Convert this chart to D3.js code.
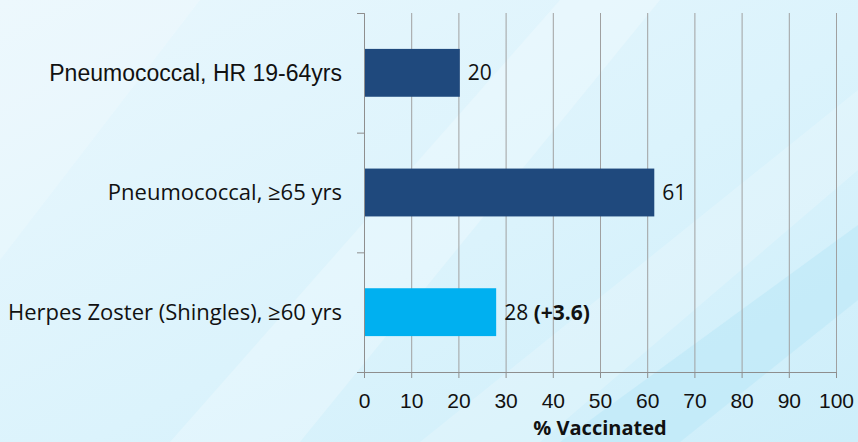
<!DOCTYPE html>
<html>
<head>
<meta charset="utf-8">
<style>
  body { margin: 0; }
  svg { display: block; }
  .axis path, .axis line { stroke: #8e8e8e; }
  .grid line { stroke: #a0a0a0; }
  .grid path { display: none; }
</style>
</head>
<body>
<svg id="chart" width="858" height="442"></svg>
<script src="https://d3js.org/d3.v7.min.js"></script>
<script>
// data
var categories = ["Pneumococcal, HR 19-64yrs", "Pneumococcal, \u226565 yrs", "Herpes Zoster (Shingles), \u226560 yrs"];
var values = [20.3, 61.5, 28.0];
var valueLabels = ["20", "61", "28"];
var extraLabels = ["", "", "(+3.6)"];
var barColors = ["#1f497d", "#1f497d", "#00b0f0"];
var xTicks = [0, 10, 20, 30, 40, 50, 60, 70, 80, 90, 100];

var svg = d3.select("#chart"),
    margin = {top: 13, right: 22, bottom: 70, left: 364},
    width = +svg.attr("width") - margin.left - margin.right,
    height = +svg.attr("height") - margin.top - margin.bottom;

// background
var defs = svg.append("defs");
var bg = defs.append("linearGradient").attr("id", "bg")
    .attr("x1", "0").attr("y1", "0").attr("x2", "1").attr("y2", "1");
bg.append("stop").attr("offset", "0").attr("stop-color", "#e9f7fd");
bg.append("stop").attr("offset", "0.55").attr("stop-color", "#dbf3fc");
bg.append("stop").attr("offset", "1").attr("stop-color", "#cdeefa");
svg.append("rect").attr("width", 858).attr("height", 442).attr("fill", "url(#bg)");

// soft diagonal streaks
svg.append("path").attr("d", "M560,0 L660,0 L300,442 L170,442 Z").attr("fill", "#fff").attr("opacity", 0.25);
svg.append("path").attr("d", "M858,90 L858,170 L540,442 L420,442 Z").attr("fill", "#fff").attr("opacity", 0.2);
svg.append("path").attr("d", "M858,225 L858,300 L680,442 L560,442 Z").attr("fill", "#b9e7f8").attr("opacity", 0.55);
svg.append("path").attr("d", "M0,0 L200,0 L0,260 Z").attr("fill", "#fff").attr("opacity", 0.2);

var g = svg.append("g").attr("transform", "translate(" + margin.left + "," + margin.top + ")");

var x = d3.scaleLinear().domain([0, 100]).range([0, width]);
var y = d3.scaleBand().domain(categories).range([0, height])
    .paddingInner(0.6).paddingOuter(0.3);
var yEdge = d3.scaleLinear().domain([0, categories.length]).range([0, height]);

// gridlines
g.append("g")
    .attr("class", "grid")
    .attr("transform", "translate(0," + height + ")")
    .call(d3.axisBottom(x).tickValues(xTicks).tickSize(-height).tickFormat(""));

// x axis
var xAxis = g.append("g")
    .attr("class", "axis")
    .attr("transform", "translate(0," + height + ")")
    .call(d3.axisBottom(x).tickValues(xTicks).tickSize(6).tickSizeOuter(0).tickPadding(15));
xAxis.selectAll("text")
    .attr("fill", "#111")
    .style("font-family", "'Liberation Sans', Arial, sans-serif")
    .style("font-size", "21px");

// y axis: ticks at category boundaries
g.append("g")
    .attr("class", "axis")
    .call(d3.axisLeft(yEdge).tickValues([0, 1, 2, 3]).tickSize(7).tickSizeOuter(0).tickFormat(""));

// category labels
g.selectAll(".cat")
    .data(categories)
  .enter().append("text")
    .attr("class", "cat")
    .attr("x", -22)
    .attr("y", function(d) { return y(d) + y.bandwidth() / 2; })
    .attr("dy", "0.35em")
    .attr("text-anchor", "end")
    .attr("fill", "#111")
    .style("font-family", function(d, i) { return i === 0 ? "'Liberation Sans', Arial, sans-serif" : "'Open Sans', sans-serif"; })
    .style("font-size", function(d, i) { return i === 0 ? "23px" : "22px"; })
    .text(function(d) { return d; });

// bars
g.selectAll(".bar")
    .data(values)
  .enter().append("rect")
    .attr("class", "bar")
    .attr("x", x(0) + 1)
    .attr("y", function(d, i) { return y(categories[i]); })
    .attr("width", function(d) { return x(d) - x(0) - 1; })
    .attr("height", y.bandwidth())
    .attr("fill", function(d, i) { return barColors[i]; });

// value labels
var lbl = g.selectAll(".val")
    .data(values)
  .enter().append("text")
    .attr("class", "val")
    .attr("x", function(d) { return x(d) + 8; })
    .attr("y", function(d, i) { return y(categories[i]) + y.bandwidth() / 2; })
    .attr("dy", "0.35em")
    .attr("fill", "#111")
    .style("font-family", "'Open Sans', sans-serif")
    .style("font-size", "21px");
lbl.append("tspan").text(function(d, i) { return valueLabels[i]; });
lbl.append("tspan")
    .attr("font-weight", "bold")
    .text(function(d, i) { return extraLabels[i] ? " " + extraLabels[i] : ""; });

// x axis title
g.append("text")
    .attr("x", width / 2)
    .attr("y", height + 63)
    .attr("text-anchor", "middle")
    .attr("fill", "#111")
    .style("font-family", "'Open Sans', sans-serif")
    .style("font-size", "20px")
    .style("font-weight", "bold")
    .text("% Vaccinated");
</script>
</body>
</html>
